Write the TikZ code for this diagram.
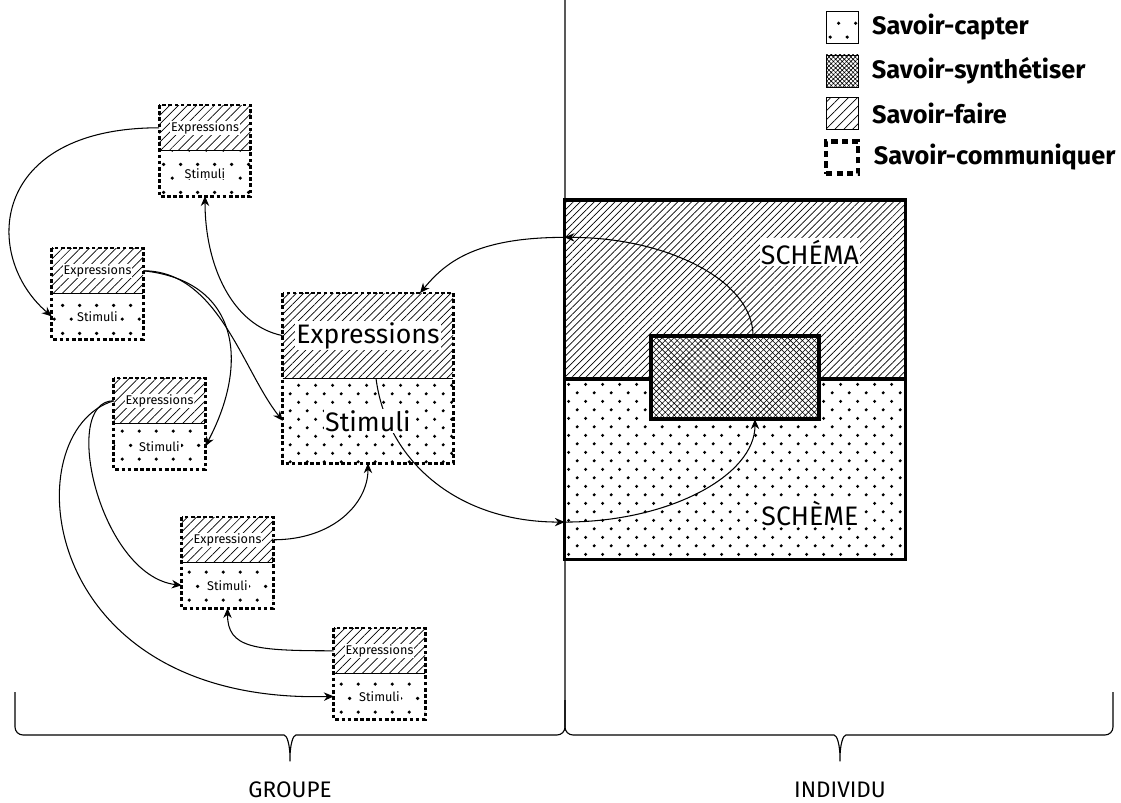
\documentclass[tikz,border=0pt]{standalone}
\usepackage{fontspec}
\setmainfont{Fira Sans}
\usetikzlibrary{arrows.meta, positioning, patterns, patterns.meta}

% dot fillings (staggered)
\pgfdeclarepatternformonly{sparse dots}{\pgfpointorigin}{\pgfpoint{12pt}{20pt}}{\pgfpoint{12pt}{20pt}}{%
  \pgfpathcircle{\pgfpoint{3pt}{5pt}}{1.3pt}%
  \pgfpathcircle{\pgfpoint{9pt}{15pt}}{1.3pt}%
  \pgfusepath{fill}}
\pgfdeclarepatternformonly{dense dots}{\pgfpointorigin}{\pgfpoint{12pt}{12pt}}{\pgfpoint{12pt}{12pt}}{%
  \pgfpathcircle{\pgfpoint{3pt}{3pt}}{1.2pt}%
  \pgfpathcircle{\pgfpoint{9pt}{9pt}}{1.2pt}%
  \pgfusepath{fill}}

\tikzset{
  half/.style={rectangle, draw=none, inner sep=0pt, minimum width=2.275cm, minimum height=1.125cm},
  faire/.style={pattern={Lines[angle=45, distance=4.5pt, line width=0.5pt]}},
  capter/.style={pattern=sparse dots},
  comm/.style={line width=2pt, dash pattern=on 2.6pt off 1.8pt},
  lbl/.style={fill=white, inner sep=0.6pt, font=\fontsize{9}{10}\selectfont},
  biglbl/.style={fill=white, inner sep=1pt, font=\fontsize{19}{21}\selectfont},
  link/.style={line width=0.75pt, -{Stealth[length=7pt, width=6pt]}},
  legbox/.style={rectangle, draw, line width=0.5pt, inner sep=0pt, minimum size=0.8cm},
  legtxt/.style={inner sep=1pt, font=\bfseries\fontsize{18}{20}\selectfont},
  thickline/.style={line width=2.5pt},
}

\begin{document}
\begin{tikzpicture}[x=0.025cm, y=-0.025cm]
    \useasboundingbox (0,0) rectangle (1121,803);

    % Legend
    \node[legbox, capter] (lg-capter) at (842,27.5) {};
    \node[legtxt, right=0.3cm of lg-capter] (lt-capter) {Savoir-capter};
    \node[legbox, pattern={Hatch[angle=45, distance=2.2pt, line width=0.4pt]}] (lg-synth) at (842,71) {};
    \node[legtxt, right=0.3cm of lg-synth] (lt-synth) {Savoir-synthétiser};
    \node[legbox, faire] (lg-faire) at (842,113.5) {};
    \node[legtxt, right=0.3cm of lg-faire] (lt-faire) {Savoir-faire};
    \node[legbox, line width=3pt, dash pattern=on 4.5pt off 3pt] (lg-comm) at (842,157.5) {};
    \node[legtxt, right=0.3cm of lg-comm] (lt-comm) {Savoir-communiquer};

    % Small boxes of the group
    \foreach \n/\x/\y in {b1/205/105, b2/97.5/248, b3/159.5/378, b4/227.5/517, b5/379.5/628} {
        \node[half, faire, anchor=north] (\n-e) at (\x,\y) {};
        \node[half, capter, anchor=north] (\n-s) at (\n-e.south) {};
        \draw[line width=0.6pt] (\n-e.south west) -- (\n-e.south east);
        \draw[comm] (\n-e.north west) rectangle (\n-s.south east);
    }

    % Large box of the group
    \node[half, minimum width=4.25cm, minimum height=2.1125cm, pattern={Lines[angle=45, distance=3.7pt, line width=0.5pt]}, anchor=north] (bg-e) at (368,293) {};
    \node[half, minimum width=4.25cm, minimum height=2.1125cm, pattern=dense dots, anchor=north] (bg-s) at (bg-e.south) {};
    \draw[line width=0.6pt] (bg-e.south west) -- (bg-e.south east);
    \draw[comm] (bg-e.north west) rectangle (bg-s.south east);

    % Individual: schema / scheme
    \node[rectangle, inner sep=0pt, minimum width=8.5cm, minimum height=4.45cm, pattern={Lines[angle=45, distance=3.5pt, line width=0.5pt]}, anchor=north] (schema) at (735,200) {};
    \node[rectangle, inner sep=0pt, minimum width=8.5cm, minimum height=4.5cm, pattern=dense dots, anchor=north] (scheme) at (schema.south) {};
    \draw[thickline] (schema.north west) rectangle (scheme.south east);
    \draw[thickline] (schema.south west) -- (schema.south east);
    \node[rectangle, inner sep=0pt, minimum width=4.2cm, minimum height=2.075cm, draw, thickline, preaction={fill=white}, pattern={Hatch[angle=45, distance=3pt, line width=0.4pt]}] (synth) at (735,377.5) {};
    \node[biglbl] (schema-l) at (810,252) {SCHÉMA};
    \node[biglbl] (scheme-l) at (810,513) {SCHÈME};
    \coordinate (ina) at ([yshift=1.3cm]schema.west);
    \coordinate (inb) at ([yshift=-1.325cm]scheme.west);

    % Divider and braces
    \draw[line width=0.8pt, rounded corners=0.2cm] (15,692) -- (15,735) -- (276,735)
        .. controls (287,735) and (290,745) .. (290,766)
        .. controls (290,745) and (293,735) .. (304,735) -- (565,735) -- (565,0);
    \draw[line width=0.8pt, rounded corners=0.2cm] (1113,692) -- (1113,735) -- (854,735)
        .. controls (843,735) and (840,745) .. (840,766)
        .. controls (840,745) and (837,735) .. (826,735) -- (565,735) -- (565,700);
    \node[font=\fontsize{16}{18}\selectfont] (groupe) at (290,790) {GROUPE};
    \node[font=\fontsize{16}{18}\selectfont] (individu) at (840,790) {INDIVIDU};

    % Exchanges inside the group
    \draw[link] (b1-e.west) .. controls +(-170,0) and +(-70,-60) .. (b2-s.west);
    \draw[link] (bg-e.west) .. controls +(-50,-10) and +(0,70) .. (b1-s.south);
    \draw[link] (b2-e.east) .. controls +(75,0) and +(-40,-50) .. (bg-s.west);
    \draw[link] (b2-e.east) .. controls +(95,10) and +(45,-85) .. (b3-s.east);
    \draw[link] (b3-e.west) .. controls +(-54,0) and +(-82,-10) .. (b4-s.west);
    \draw[link] (b3-e.west) .. controls +(-100,30) and +(-300,8) .. (b5-s.west);
    \draw[link] (b4-e.east) .. controls +(60,0) and +(0,40) .. (bg-s.south);
    \draw[link] (b5-e.west) .. controls +(-80,0) and +(0,40) .. (b4-s.south);

    % Exchanges group <-> individual
    \draw[link] ([xshift=0.2cm]bg-s.north) .. controls +(10,80) and +(-110,0) .. (inb);
    \draw[link] (inb) .. controls +(105,0) and +(0,56) .. ([xshift=0.5cm]synth.south);
    \draw[link] ([xshift=0.45cm]synth.north) .. controls +(0,-55) and +(103,0) .. (ina);
    \draw[link] (ina) .. controls +(-90,0) and +(25,-30) .. ([xshift=1.3cm]bg-e.north);

    % Labels
    \foreach \n in {b1,b2,b3,b4,b5} {
        \node[lbl] (\n-el) at (\n-e) {Expressions};
        \node[lbl] (\n-sl) at (\n-s) {Stimuli};
    }
    \node[biglbl] (bg-el) at (bg-e) {Expressions};
    \node[biglbl] (bg-sl) at (bg-s) {Stimuli};
\end{tikzpicture}
\end{document}
